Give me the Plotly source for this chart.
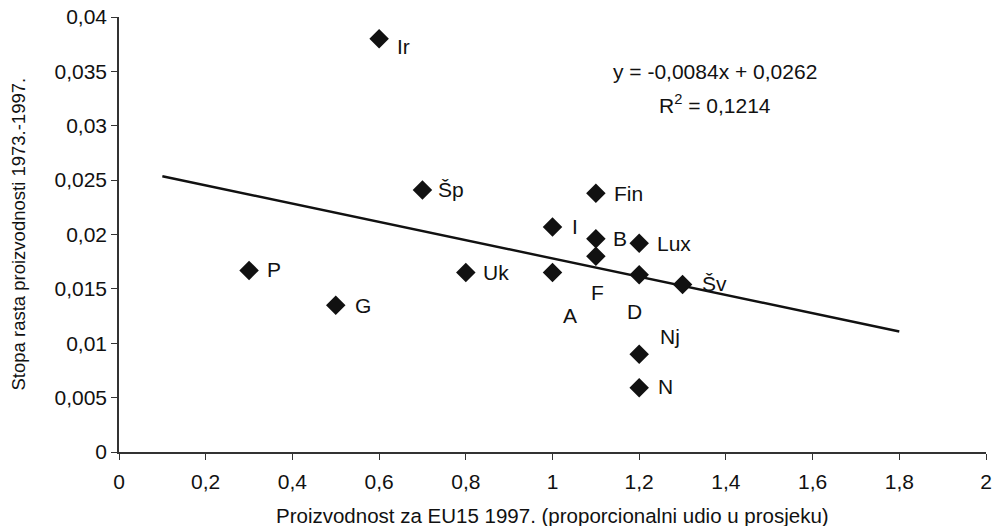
import plotly.graph_objects as go

# Data
countries = ["Ir", "Šp", "P", "G", "Uk", "Fin", "I", "B", "Lux", "F", "A", "D", "Šv", "Nj", "N"]
productivity = [0.6, 0.7, 0.3, 0.5, 0.8, 1.1, 1.0, 1.1, 1.2, 1.1, 1.0, 1.2, 1.3, 1.2, 1.2]
growth = [0.0380, 0.0241, 0.0167, 0.0135, 0.0165, 0.0238, 0.0207, 0.0196, 0.0192,
          0.0180, 0.0165, 0.0163, 0.0154, 0.0090, 0.0059]

trend_slope = -0.0084
trend_intercept = 0.0262
trend_x = [0.1, 1.8]
trend_y = [trend_slope * v + trend_intercept for v in trend_x]

x_ticks = [0, 0.2, 0.4, 0.6, 0.8, 1.0, 1.2, 1.4, 1.6, 1.8, 2.0]
x_tick_labels = ["0", "0,2", "0,4", "0,6", "0,8", "1", "1,2", "1,4", "1,6", "1,8", "2"]
y_ticks = [0, 0.005, 0.01, 0.015, 0.02, 0.025, 0.03, 0.035, 0.04]
y_tick_labels = ["0", "0,005", "0,01", "0,015", "0,02", "0,025", "0,03", "0,035", "0,04"]

x_title = "Proizvodnost za EU15 1997. (proporcionalni udio u prosjeku)"
y_title = "Stopa rasta proizvodnosti 1973.-1997."

# label pixel offsets (style): (xshift, yshift, xanchor)
label_offsets = {
    "Ir": (16, -8, "left"), "Šp": (14, 0, "left"), "P": (16, 1, "left"),
    "G": (17, 0, "left"), "Uk": (15, 0, "left"), "Fin": (16, 0, "left"),
    "I": (17, 0, "left"), "B": (15, 0, "left"), "Lux": (16, 0, "left"),
    "F": (2, -36, "center"), "A": (17, -43, "center"), "D": (-5, -37, "center"),
    "Šv": (17, 1, "left"), "Nj": (19, 18, "left"), "N": (17, 1, "left"),
}

FONT = "Liberation Sans, Arial, sans-serif"
INK = "#111111"
HSIZE = 21

fig = go.Figure()
fig.add_trace(go.Scatter(
    x=trend_x, y=trend_y, mode="lines",
    line=dict(color=INK, width=2.4), hoverinfo="skip", showlegend=False))
fig.add_trace(go.Scatter(
    x=productivity, y=growth, mode="markers", text=countries,
    marker=dict(symbol="diamond", size=15, color=INK), showlegend=False))

for c, xv, yv in zip(countries, productivity, growth):
    dx, dy, anc = label_offsets[c]
    fig.add_annotation(x=xv, y=yv, text=c, showarrow=False, xanchor=anc, yanchor="middle",
                       xshift=dx, yshift=dy, font=dict(family=FONT, size=HSIZE, color=INK))

fig.add_annotation(x=1.375, y=0.0350, text="y = -0,0084x + 0,0262", showarrow=False,
                   xanchor="center", yanchor="middle", font=dict(family=FONT, size=HSIZE, color=INK))
fig.add_annotation(x=1.375, y=0.0320, text="R<sup>2</sup> = 0,1214", showarrow=False,
                   xanchor="center", yanchor="middle", font=dict(family=FONT, size=HSIZE, color=INK))

# axis titles
fig.add_annotation(x=0.5, y=0, xref="paper", yref="paper", text=x_title, showarrow=False,
                   xanchor="center", yanchor="middle", yshift=-63,
                   font=dict(family=FONT, size=HSIZE - 0.5, color=INK))
fig.add_annotation(x=0, y=0.5, xref="paper", yref="paper", text=y_title, showarrow=False,
                   xanchor="center", yanchor="middle", xshift=-101, textangle=-90,
                   font=dict(family=FONT, size=18.5, color=INK))

fig.update_layout(
    width=1000, height=526,
    margin=dict(l=119, r=14, t=17, b=74),
    paper_bgcolor="white", plot_bgcolor="white",
    font=dict(family=FONT, size=HSIZE, color=INK),
    xaxis=dict(range=[0, 2], tickvals=x_ticks, ticktext=x_tick_labels, automargin=False,
               showgrid=False, zeroline=False, showline=True, linecolor="#333333", linewidth=1.5,
               ticks="outside", ticklen=6, tickcolor="#333333", tickfont=dict(size=HSIZE),
               ticklabelstandoff=4),
    yaxis=dict(range=[0, 0.04], tickvals=y_ticks, ticktext=y_tick_labels, automargin=False,
               showgrid=False, zeroline=False, showline=True, linecolor="#333333", linewidth=1.5,
               ticks="outside", ticklen=6, tickcolor="#333333", tickfont=dict(size=HSIZE)),
)

fig.write_html("out.html")
